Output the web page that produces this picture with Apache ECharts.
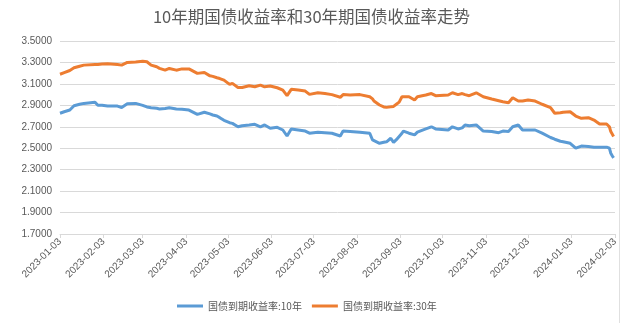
<!DOCTYPE html>
<html>
<head>
<meta charset="utf-8">
<script src="https://cdn.jsdelivr.net/npm/echarts@6/dist/echarts.min.js"></script>
<style>
  html, body { margin: 0; padding: 0; background: #fff; }
  #chart { width: 623px; height: 323px; }
</style>
</head>
<body>
<div id="chart"></div>
<script>
// Sampled trading dates and yields (%)
var dates = [
  '2023-01-03','2023-01-06','2023-01-10','2023-01-13','2023-01-17','2023-01-20','2023-01-28','2023-01-30',
  '2023-02-02','2023-02-06','2023-02-13','2023-02-16','2023-02-20','2023-02-26',
  '2023-03-03','2023-03-06','2023-03-09','2023-03-13','2023-03-15','2023-03-19','2023-03-22','2023-03-27','2023-03-31',
  '2023-04-05','2023-04-11','2023-04-16','2023-04-20','2023-04-22','2023-04-25','2023-04-27','2023-04-30',
  '2023-05-04','2023-05-06','2023-05-10','2023-05-13','2023-05-18','2023-05-22','2023-05-26','2023-05-29',
  '2023-06-02','2023-06-07','2023-06-11','2023-06-14','2023-06-17','2023-06-22','2023-06-27','2023-06-30',
  '2023-07-06','2023-07-11','2023-07-16','2023-07-22','2023-07-24','2023-07-29',
  '2023-08-05','2023-08-12','2023-08-14','2023-08-15','2023-08-19','2023-08-22','2023-08-24','2023-08-27','2023-08-29','2023-08-31',
  '2023-09-02','2023-09-04','2023-09-05','2023-09-09','2023-09-13','2023-09-15','2023-09-21','2023-09-25','2023-09-28',
  '2023-10-07','2023-10-10','2023-10-14','2023-10-17','2023-10-19','2023-10-22','2023-10-27',
  '2023-11-01','2023-11-07','2023-11-12','2023-11-15','2023-11-19','2023-11-22','2023-11-26','2023-11-29',
  '2023-12-03','2023-12-08','2023-12-13','2023-12-19','2023-12-22','2023-12-26','2023-12-28',
  '2024-01-02','2024-01-06','2024-01-10','2024-01-15','2024-01-19','2024-01-23','2024-01-28','2024-01-30','2024-01-31',
  '2024-02-01','2024-02-02'
];

var yield10 = [
  2.826,2.840,2.856,2.896,2.910,2.918,2.928,2.900,
  2.900,2.893,2.893,2.880,2.915,2.918,
  2.900,2.885,2.878,2.872,2.866,2.870,2.878,2.866,2.863,
  2.856,2.816,2.835,2.820,2.810,2.800,2.785,2.760,
  2.738,2.732,2.700,2.710,2.717,2.723,2.700,2.717,
  2.686,2.695,2.670,2.614,2.680,2.670,2.660,2.640,
  2.650,2.645,2.640,2.614,2.660,2.656,
  2.650,2.640,2.577,2.570,2.546,2.555,2.560,2.593,2.555,2.580,
  2.610,2.640,2.660,2.640,2.624,2.650,2.680,2.700,2.680,
  2.670,2.700,2.680,2.690,2.717,2.710,2.717,
  2.660,2.656,2.645,2.660,2.656,2.700,2.717,2.670,
  2.670,2.670,2.640,2.600,2.584,2.565,2.561,
  2.546,2.500,2.520,2.515,2.509,2.509,2.510,2.500,2.453,
  2.430,2.410
];

var yield30 = [
  3.190,3.205,3.225,3.250,3.265,3.275,3.280,3.280,
  3.285,3.287,3.281,3.275,3.300,3.305,
  3.312,3.306,3.275,3.260,3.245,3.228,3.244,3.228,3.240,
  3.240,3.198,3.207,3.175,3.170,3.157,3.150,3.135,
  3.095,3.105,3.067,3.067,3.082,3.073,3.089,3.073,
  3.080,3.064,3.042,2.990,3.049,3.042,3.033,3.002,
  3.017,3.011,3.000,2.975,3.000,2.996,
  3.000,2.980,2.960,2.940,2.903,2.885,2.881,2.886,2.890,2.910,
  2.930,2.980,2.980,2.980,2.949,2.980,2.996,3.010,2.990,
  2.996,3.017,3.000,3.010,3.000,2.990,3.017,
  2.980,2.959,2.943,2.933,2.925,2.971,2.940,2.940,
  2.950,2.940,2.910,2.878,2.826,2.830,2.835,
  2.840,2.800,2.779,2.785,2.763,2.726,2.726,2.700,2.655,
  2.640,2.610
];

var seriesNames = ['国债到期收益率:10年', '国债到期收益率:30年'];
var yTicks = [1.7, 1.9, 2.1, 2.3, 2.5, 2.7, 2.9, 3.1, 3.3, 3.5];

// Calendar-day category axis from first to last date
var days = [];
(function () {
  var t = Date.UTC(2023, 0, 3), end = Date.UTC(2024, 1, 3);
  for (; t <= end; t += 86400000) {
    days.push(new Date(t).toISOString().slice(0, 10));
  }
})();

function pairs(vals) {
  return dates.map(function (d, i) { return [d, vals[i]]; });
}

function isMonthTick(idx, value) {
  return days[idx].slice(8) === '03';
}

var textColor = '#595959';
var chart = echarts.init(document.getElementById('chart'), null, { renderer: 'canvas' });

chart.setOption({
  animation: false,
  backgroundColor: '#ffffff',
  color: ['#5B9BD5', '#ED7D31'],
  title: {
    text: '10年期国债收益率和30年期国债收益率走势',
    left: 'center',
    top: 3,
    textStyle: {
      fontFamily: 'Noto Sans CJK SC',
      fontSize: 16.5,
      fontWeight: 'normal',
      color: textColor
    }
  },
  legend: {
    bottom: 7,
    left: 172,
    icon: 'rect',
    itemWidth: 26,
    itemHeight: 3,
    itemGap: 10,
    textStyle: { fontFamily: 'Noto Sans CJK SC', fontSize: 10, color: textColor },
    data: seriesNames
  },
  grid: { left: 60, right: 8, top: 41, bottom: 89 },
  xAxis: {
    type: 'category',
    data: days,
    boundaryGap: false,
    axisLine: { lineStyle: { color: '#d9d9d9' } },
    axisTick: { interval: isMonthTick, length: 4, lineStyle: { color: '#d9d9d9' } },
    axisLabel: {
      interval: isMonthTick,
      rotate: 45,
      fontSize: 10,
      fontFamily: 'Liberation Sans',
      color: textColor,
      margin: 6
    },
    splitLine: { show: false }
  },
  yAxis: {
    type: 'value',
    min: 1.7,
    max: 3.5,
    axisLine: { show: false },
    axisTick: { show: false, customValues: yTicks },
    axisLabel: {
      customValues: yTicks,
      fontSize: 10,
      fontFamily: 'Liberation Sans',
      color: textColor,
      margin: 8,
      formatter: function (v) { return v.toFixed(4); }
    },
    splitLine: { lineStyle: { color: '#d9d9d9', width: 1 } }
  },
  graphic: [{
    type: 'line',
    shape: { x1: 619.5, y1: 0, x2: 619.5, y2: 323 },
    style: { stroke: '#e0e0e0', lineWidth: 1 },
    silent: true
  }],
  series: [
    {
      name: seriesNames[0],
      type: 'line',
      data: pairs(yield10),
      symbol: 'none',
      connectNulls: true,
      lineStyle: { width: 3, color: '#5B9BD5' },
      itemStyle: { color: '#5B9BD5' }
    },
    {
      name: seriesNames[1],
      type: 'line',
      data: pairs(yield30),
      symbol: 'none',
      connectNulls: true,
      lineStyle: { width: 3, color: '#ED7D31' },
      itemStyle: { color: '#ED7D31' }
    }
  ]
});
</script>
</body>
</html>
